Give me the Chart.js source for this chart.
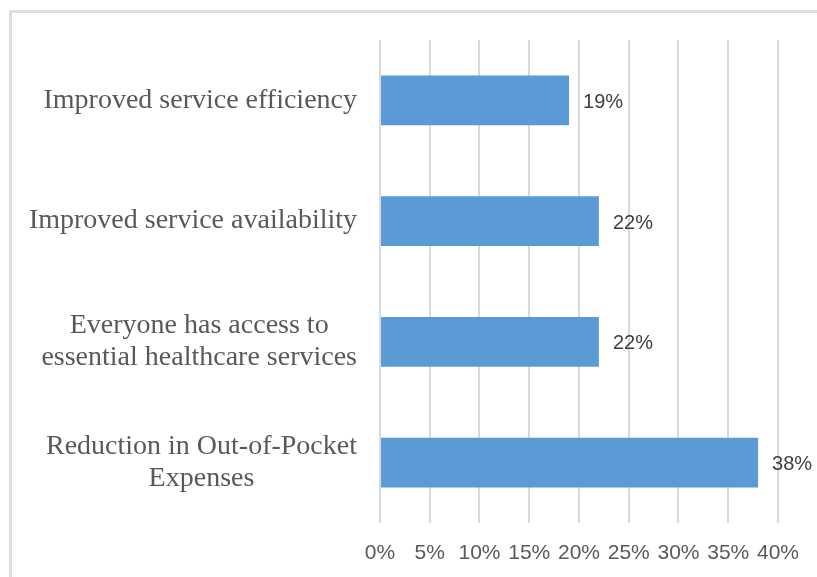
<!DOCTYPE html>
<html>
<head>
<meta charset="utf-8">
<script src="https://cdn.jsdelivr.net/npm/chart.js@4"></script>
<style>
  html, body { margin: 0; padding: 0; background: #fff; }
  .wrap { position: relative; width: 817px; height: 577px; overflow: hidden; }
  .frame { position: absolute; left: 9px; top: 10px; width: 900px; height: 700px;
           border-top: 3px solid #dedede; border-left: 3px solid #dedede; }
  canvas { position: absolute; left: 0; top: 0; }
</style>
</head>
<body>
<div class="wrap">
  <div class="frame"></div>
  <canvas id="chart" width="817" height="577"></canvas>
</div>
<script>
// Horizontal bar chart: share of responses per expected benefit.

const categories = [
  ['Improved service efficiency'],
  ['Improved service availability'],
  ['Everyone has access to', 'essential healthcare services'],
  ['Reduction in Out-of-Pocket', 'Expenses'],
];
const shares = [19, 22, 22, 38];
const xTicks = [0, 5, 10, 15, 20, 25, 30, 35, 40];

const BAR_COLOR = '#5b9bd5';
const GRID_COLOR = '#d9d9d9';
const INK = '#595959';
const VALUE_INK = '#404040';
const SERIF = '"Liberation Serif", "Times New Roman", serif';
const SANS = '"Liberation Sans", Arial, sans-serif';

// category names: each block right-aligned against the plot, lines centred inside it
const categoryLabels = {
  id: 'categoryLabels',
  afterDraw(chart) {
    const { ctx } = chart;
    const yScale = chart.scales.y;
    const rightEdge = chart.chartArea.left - 23;
    const lineHeight = 32;
    ctx.save();
    ctx.font = `28px ${SERIF}`;
    ctx.fillStyle = INK;
    ctx.textAlign = 'center';
    ctx.textBaseline = 'middle';
    categories.forEach((lines, i) => {
      const w = Math.max(...lines.map((l) => ctx.measureText(l).width));
      const cx = rightEdge - w / 2;
      const cy = yScale.getPixelForTick(i);
      lines.forEach((line, j) => {
        ctx.fillText(line, cx, cy + (j - (lines.length - 1) / 2) * lineHeight);
      });
    });
    ctx.restore();
  },
};

// percentage printed just past the end of each bar
const valueLabels = {
  id: 'valueLabels',
  afterDatasetsDraw(chart) {
    const { ctx } = chart;
    const meta = chart.getDatasetMeta(0);
    ctx.save();
    ctx.font = `20px ${SANS}`;
    ctx.fillStyle = VALUE_INK;
    ctx.textAlign = 'left';
    ctx.textBaseline = 'middle';
    meta.data.forEach((bar, i) => {
      ctx.fillText(`${shares[i]}%`, bar.x + 14, bar.y + 2);
    });
    ctx.restore();
  },
};

new Chart(document.getElementById('chart'), {
  type: 'bar',
  data: {
    labels: categories,
    datasets: [{
      data: shares,
      backgroundColor: BAR_COLOR,
      borderWidth: 0,
      categoryPercentage: 1,
      barPercentage: 0.41,
    }],
  },
  options: {
    indexAxis: 'y',
    responsive: false,
    animation: false,
    layout: { padding: { left: 380, right: 37, top: 40, bottom: 0 } },
    plugins: {
      legend: { display: false },
      tooltip: { enabled: false },
    },
    scales: {
      y: {
        display: false,
      },
      x: {
        min: 0,
        max: 40,
        afterBuildTicks: (scale) => { scale.ticks = xTicks.map((v) => ({ value: v })); },
        afterFit: (scale) => { scale.height = 54; },
        grid: { color: GRID_COLOR, lineWidth: 2, drawTicks: false },
        border: { display: false },
        ticks: {
          color: INK,
          font: { family: SANS, size: 21 },
          padding: 18,
          maxRotation: 0,
          callback: (value) => `${value}%`,
        },
      },
    },
  },
  plugins: [categoryLabels, valueLabels],
});
</script>
</body>
</html>
